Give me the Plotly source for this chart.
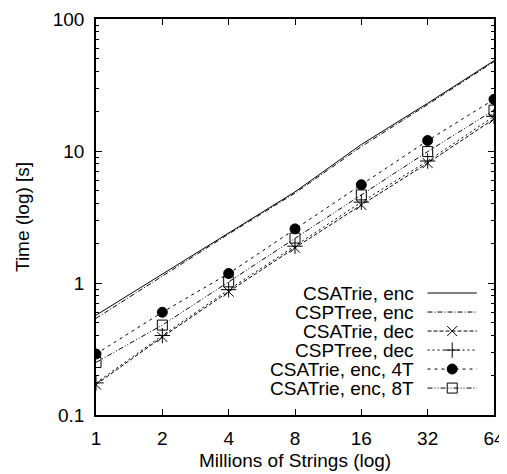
import plotly.graph_objects as go

# ---- data ----
millions = [1, 2, 4, 8, 16, 32, 64]
csatrie_enc = [0.57, 1.17, 2.40, 4.90, 11.2, 23.0, 48.3]
csptree_enc = [0.54, 1.13, 2.35, 4.80, 10.8, 22.5, 47.5]
csatrie_dec = [0.17, 0.39, 0.86, 1.85, 3.90, 8.10, 17.5]
csptree_dec = [0.175, 0.40, 0.89, 1.90, 4.10, 8.40, 18.3]
csatrie_enc_4t = [0.29, 0.60, 1.18, 2.57, 5.55, 12.0, 24.6]
csatrie_enc_8t = [0.25, 0.48, 1.02, 2.19, 4.65, 9.9, 20.4]

series_names = ["CSATrie, enc", "CSPTree, enc", "CSATrie, dec",
                "CSPTree, dec", "CSATrie, enc, 4T", "CSATrie, enc, 8T"]
series_values = [csatrie_enc, csptree_enc, csatrie_dec,
                 csptree_dec, csatrie_enc_4t, csatrie_enc_8t]

x_ticks = [1, 2, 4, 8, 16, 32, 64]
x_ticklabels = ["1", "2", "4", "8", "16", "32", "64"]
y_ticks = [0.1, 1, 10, 100]
y_ticklabels = ["0.1", "1", "10", "100"]

# ---- styles ----
dashes = ["solid", "5px,2px,1px,2px", "4px,2px", "2px,3px",
          "3px,4px", "5px,2px,1px,2px,1px,2px"]
symbols = [None, None, "x-thin-open", "cross-thin-open", "circle", "square-open"]
msizes = [0, 0, 10, 11, 10, 10]
FONT = "Liberation Sans, Arial, sans-serif"
FS = 19

fig = go.Figure()
for name, vals, dash, sym, ms in zip(series_names, series_values, dashes, symbols, msizes):
    tr = dict(x=millions, y=vals, name=name, showlegend=False,
              line=dict(color="black", width=1, dash=dash))
    if sym:
        tr["mode"] = "lines+markers"
        tr["marker"] = dict(symbol=sym, size=ms, color="black",
                            line=dict(color="black", width=1))
    else:
        tr["mode"] = "lines"
    fig.add_trace(go.Scatter(**tr))

# ---- custom gnuplot-style key (text, then sample) ----
key_top = 0.308  # paper fraction of first row within plot
key_step = 0.048
for i, (name, dash, sym, ms) in enumerate(zip(series_names, dashes, symbols, msizes)):
    yk = key_top - i * key_step
    fig.add_trace(go.Scatter(x=[0.833, 0.957], y=[yk, yk], xaxis="x2", yaxis="y2",
                             mode="lines", showlegend=False, hoverinfo="skip",
                             line=dict(color="black", width=1, dash=dash)))
    if sym:
        fig.add_trace(go.Scatter(x=[0.895], y=[yk], xaxis="x2", yaxis="y2",
                                 mode="markers", showlegend=False, hoverinfo="skip",
                                 marker=dict(symbol=sym, size=ms, color="black",
                                             line=dict(color="black", width=1))))
    fig.add_annotation(x=0.805, y=yk, xref="x2", yref="y2", text=name,
                       showarrow=False, xanchor="right", yanchor="middle",
                       font=dict(family=FONT, size=FS, color="black"))

# axis titles
fig.add_annotation(x=0.5, y=0, xref="paper", yref="paper", yshift=-45,
                   text="Millions of Strings (log)", showarrow=False,
                   xanchor="center", yanchor="middle",
                   font=dict(family=FONT, size=FS, color="black"))
fig.add_annotation(x=0, y=0.5, xref="paper", yref="paper", xshift=-74,
                   text="Time (log) [s]", showarrow=False, textangle=-90,
                   xanchor="center", yanchor="middle",
                   font=dict(family=FONT, size=FS, color="black"))

axis_common = dict(showline=True, linecolor="black", linewidth=1.5, mirror="allticks",
                   ticks="inside", tickcolor="black", ticklen=6, tickwidth=1,
                   showgrid=False, zeroline=False, automargin=False,
                   tickfont=dict(family=FONT, size=FS, color="black"))

# page body adds an 8px offset, so the figure is sized/margined to compensate
fig.update_layout(
    width=499, height=466,
    margin=dict(l=88, r=13, t=11, b=59, autoexpand=False),
    paper_bgcolor="white", plot_bgcolor="white",
    font=dict(family=FONT, size=FS, color="black"),
    showlegend=False,
    xaxis=dict(type="log", range=[0, 1.80618], tickvals=x_ticks, ticktext=x_ticklabels,
               ticklabelstandoff=5, **axis_common),
    yaxis=dict(type="log", range=[-1, 2], tickvals=y_ticks, ticktext=y_ticklabels,
               minor=dict(ticks="inside", ticklen=3, tickcolor="black", tickwidth=1,
                          tickvals=[0.2, 0.3, 0.4, 0.5, 0.6, 0.7, 0.8, 0.9,
                                    2, 3, 4, 5, 6, 7, 8, 9,
                                    20, 30, 40, 50, 60, 70, 80, 90],
                          showgrid=False),
               ticklabelstandoff=6, **axis_common),
    xaxis2=dict(overlaying="x", range=[0, 1], visible=False, fixedrange=True),
    yaxis2=dict(overlaying="y", range=[0, 1], visible=False, fixedrange=True),
)

fig.write_html("out.html")
